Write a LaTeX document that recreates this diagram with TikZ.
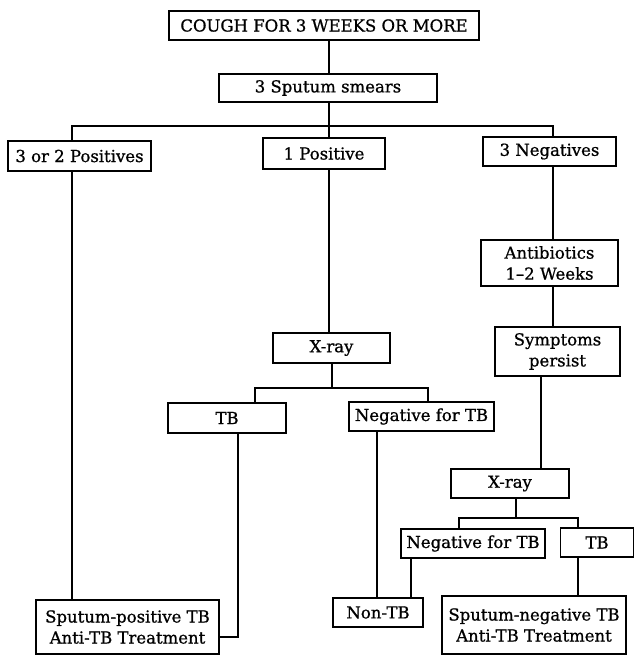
\documentclass[tikz,border=0pt]{standalone}
\usepackage{fontspec}
\setmainfont[FakeBold=0.9]{DejaVu Serif}
\begin{document}
\begin{tikzpicture}[x=1pt,y=-1pt,
  box/.style={draw=black,line width=1.3pt,inner sep=0pt,align=center,
    font=\fontsize{16.5}{21}\selectfont,text=black},
  conn/.style={draw=black,line width=1.3pt}]
\useasboundingbox (0,0) rectangle (635,657);
% boxes
\node[box,minimum width=310,minimum height=29] (cough) at (324,25.5) {COUGH FOR 3 WEEKS OR MORE};
\node[box,minimum width=218,minimum height=28] (smears) at (328,88) {3 Sputum smears};
\node[box,minimum width=143,minimum height=30] (pos32) at (79.5,156) {3 or 2 Positives};
\node[box,minimum width=122,minimum height=31] (pos1) at (324,153.5) {1 Positive};
\node[box,minimum width=133,minimum height=29] (neg3) at (549.5,151.5) {3 Negatives};
\node[box,minimum width=137,minimum height=46] (antib) at (549.5,263) {Antibiotics\\1--2 Weeks};
\node[box,minimum width=125,minimum height=49] (sympt) at (557.5,351.5) {Symptoms\\persist};
\node[box,minimum width=117,minimum height=30] (xray1) at (331.5,348) {X-ray};
\node[box,minimum width=118,minimum height=30] (tb1) at (227,418) {TB};
\node[box,minimum width=145,minimum height=29] (neg1) at (421.5,416.5) {Negative for TB};
\node[box,minimum width=118,minimum height=29] (xray2) at (510,483.5) {X-ray};
\node[box,minimum width=144,minimum height=29] (neg2) at (473,543.5) {Negative for TB};
\node[box,minimum width=73,minimum height=29] (tb2) at (597,542.5) {TB};
\node[box,minimum width=183,minimum height=54] (sppos) at (127.5,627) {Sputum-positive TB\\Anti-TB Treatment};
\node[box,minimum width=90,minimum height=29] (nontb) at (378,612.5) {Non-TB};
\node[box,minimum width=184,minimum height=58] (spneg) at (534,625) {Sputum-negative TB\\Anti-TB Treatment};
% line positions
\coordinate (xa) at (329,0);
\coordinate (xl) at (72,0);
\coordinate (xr) at (553,0);
\coordinate (xs) at (541,0);
\coordinate (xx1) at (332,0);
\coordinate (xtb1) at (255,0);
\coordinate (xng1) at (428,0);
\coordinate (xtbd) at (238,0);
\coordinate (xnd1) at (377,0);
\coordinate (xx2) at (516,0);
\coordinate (xng2) at (459,0);
\coordinate (xtb2) at (578,0);
\coordinate (xnd2) at (411,0);
\coordinate (ybus1) at (0,126);
\coordinate (ybus2) at (0,388);
\coordinate (ybus3) at (0,518);
\coordinate (ytbd) at (0,637);
% connectors
\draw[conn] (cough.south -| xa) -- (smears.north -| xa);
\draw[conn] (smears.south -| xa) -- (ybus1 -| xa);
\draw[conn] (pos32.north -| xl) -- (ybus1 -| xl) -- (ybus1 -| xr) -- (neg3.north -| xr);
\draw[conn] (ybus1 -| xa) -- (pos1.north -| xa);
\draw[conn] (pos32.south -| xl) -- (sppos.north -| xl);
\draw[conn] (pos1.south -| xa) -- (xray1.north -| xa);
\draw[conn] (neg3.south -| xr) -- (antib.north -| xr);
\draw[conn] (antib.south -| xr) -- (sympt.north -| xr);
\draw[conn] (sympt.south -| xs) -- (xray2.north -| xs);
\draw[conn] (xray1.south -| xx1) -- (ybus2 -| xx1);
\draw[conn] (tb1.north -| xtb1) -- (ybus2 -| xtb1) -- (ybus2 -| xng1) -- (neg1.north -| xng1);
\draw[conn] (tb1.south -| xtbd) -- (ytbd -| xtbd) -- (ytbd -| sppos.east);
\draw[conn] (neg1.south -| xnd1) -- (nontb.north -| xnd1);
\draw[conn] (xray2.south -| xx2) -- (ybus3 -| xx2);
\draw[conn] (neg2.north -| xng2) -- (ybus3 -| xng2) -- (ybus3 -| xtb2) -- (tb2.north -| xtb2);
\draw[conn] (neg2.south -| xnd2) -- (nontb.north -| xnd2);
\draw[conn] (tb2.south -| xtb2) -- (spneg.north -| xtb2);
\end{tikzpicture}
\end{document}
